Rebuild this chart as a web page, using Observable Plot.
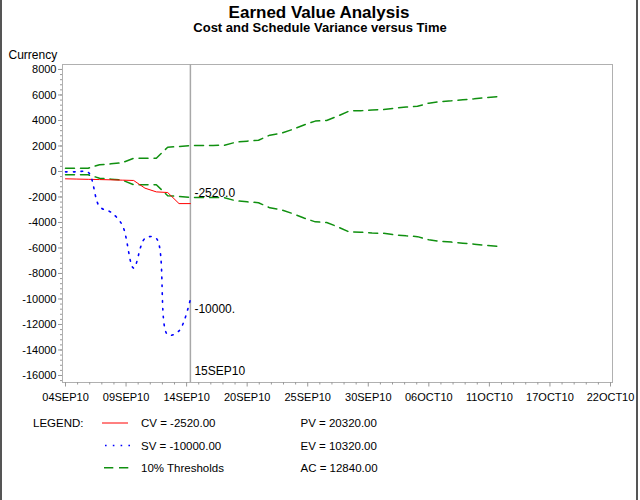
<!DOCTYPE html>
<html><head><meta charset="utf-8">
<script src="https://cdn.jsdelivr.net/npm/d3@7"></script>
<script src="https://cdn.jsdelivr.net/npm/@observablehq/plot@0.6"></script>
<style>
body{margin:0;background:#fff;font-family:"Liberation Sans",Arial,sans-serif;}
#wrap{position:relative;width:640px;height:500px;overflow:hidden;background:#fff;}
.bl{position:absolute;top:0;width:2px;height:500px;background:#555;}
svg{display:block;}
</style></head><body>
<div id="wrap"><div id="head"></div><div id="chart"></div><div id="legend"></div>
<div class="bl" style="left:0"></div><div class="bl" style="left:636px"></div></div>
<script>
// ---------------- data ----------------
const title = "Earned Value Analysis";
const subtitle = "Cost and Schedule Variance versus Time";
const yLabel = "Currency";
const tickLabels = ["04SEP10","09SEP10","14SEP10","20SEP10","25SEP10","30SEP10","06OCT10","11OCT10","17OCT10","22OCT10"];
const yTicks = [8000,6000,4000,2000,0,-2000,-4000,-6000,-8000,-10000,-12000,-14000,-16000];

const cvDates = ["2010-09-04","2010-09-05","2010-09-06","2010-09-07","2010-09-08","2010-09-09",
                 "2010-09-10","2010-09-11","2010-09-12","2010-09-13","2010-09-14","2010-09-15"];
const cvValues = [-575,-595,-615,-635,-655,-680,-705,-1310,-1600,-1650,-2520,-2520];
const svValues = [-30,-30,-60,-2750,-3200,-4200,-7580,-5250,-5250,-12800,-12500,-10000];

const thrDates = ["2010-09-04","2010-09-05","2010-09-06","2010-09-07","2010-09-08","2010-09-09","2010-09-10",
  "2010-09-11","2010-09-12","2010-09-13","2010-09-14","2010-09-15","2010-09-16","2010-09-17","2010-09-18",
  "2010-09-19","2010-09-20","2010-09-21","2010-09-22","2010-09-23","2010-09-24","2010-09-25","2010-09-26",
  "2010-09-27","2010-09-28","2010-09-29","2010-09-30","2010-10-01","2010-10-02","2010-10-03","2010-10-04",
  "2010-10-05","2010-10-06","2010-10-07","2010-10-08","2010-10-09","2010-10-10","2010-10-11","2010-10-12"];
const thrUpper = [260,260,260,525,600,680,1040,1040,1040,1900,1960,2032,2032,2040,2060,2300,2380,2450,2850,3000,
  3300,3650,3950,4000,4350,4750,4760,4830,4850,4970,5050,5110,5360,5480,5540,5620,5700,5800,5860];
const thrLower = [-260,-260,-260,-525,-600,-680,-1040,-1040,-1040,-1900,-1960,-2032,-2032,-2040,-2060,-2300,-2380,-2450,-2850,-3000,
  -3300,-3650,-3950,-4000,-4350,-4750,-4760,-4830,-4850,-4970,-5050,-5110,-5360,-5480,-5540,-5620,-5700,-5800,-5860];

const refDateStr = "2010-09-15";
const refLabel = "15SEP10";
const cvEndLabel = "-2520.0";
const svEndLabel = "-10000.";
const legendTitle = "LEGEND:";
const legendLeft = ["CV = -2520.00","SV = -10000.00","10% Thresholds"];
const legendRight = ["PV = 20320.00","EV = 10320.00","AC = 12840.00"];

// ---------------- helpers ----------------
const FONT = "'Liberation Sans', Arial, sans-serif";
const parse = s => new Date(s + "T00:00:00Z");
const DAY = 864e5;
const xStartTick = +parse("2010-09-04"), xEndTick = +parse("2010-10-22");
const majorTicks = tickLabels.map((_, i) => new Date(xStartTick + i * (xEndTick - xStartTick) / (tickLabels.length - 1)));
const minorTicks = [];
for (let i = 0; i < majorTicks.length - 1; i++)
  for (let k = 1; k < 5; k++) minorTicks.push(new Date(+majorTicks[i] + k * (majorTicks[i+1] - majorTicks[i]) / 5));
const labelMap = new Map(majorTicks.map((d, i) => [+d, tickLabels[i]]));
const yMinor = d3.range(-16400, 8390, 400);

const cv = cvDates.map((d, i) => ({date: parse(d), value: cvValues[i]}));
const sv = cvDates.map((d, i) => ({date: parse(d), value: svValues[i]}));
const up = thrDates.map((d, i) => ({date: parse(d), value: thrUpper[i]}));
const lo = thrDates.map((d, i) => ({date: parse(d), value: thrLower[i]}));
const refDate = parse(refDateStr);

// ---------------- header ----------------
const head = d3.select("#head").append("svg").attr("width", 640).attr("height", 44);
head.append("text").attr("x", 319).attr("y", 17.5).attr("text-anchor", "middle")
  .attr("font-family", FONT).attr("font-weight", "bold").attr("font-size", 17).text(title);
head.append("text").attr("x", 320).attr("y", 32).attr("text-anchor", "middle")
  .attr("font-family", FONT).attr("font-weight", "bold").attr("font-size", 13).text(subtitle);

// ---------------- plot ----------------
const chart = Plot.plot({
  width: 640, height: 368,
  marginTop: 20, marginLeft: 62, marginRight: 28, marginBottom: 30,
  style: {fontFamily: FONT, fontSize: "11px", color: "#000", background: "white"},
  x: {type: "utc", domain: [new Date(xStartTick - 0.264 * DAY), new Date(xEndTick + 0.176 * DAY)], label: null},
  y: {domain: [-16550, 8390], label: null},
  marks: [
    Plot.frame({stroke: "#b0b0b0"}),
    Plot.axisY({ticks: yMinor, tickSize: 2, tickFormat: () => "", stroke: "#999"}),
    Plot.axisY({ticks: yTicks, tickSize: 4, tickPadding: 2, tickFormat: d => String(d), stroke: "#999", fill: "#000"}),
    Plot.axisX({ticks: minorTicks, tickSize: 2.5, tickFormat: () => "", stroke: "#999"}),
    Plot.axisX({ticks: majorTicks, tickSize: 4.5, tickPadding: 6, tickFormat: d => labelMap.get(+d), stroke: "#999", fill: "#000"}),
    Plot.ruleX([refDate], {stroke: "#a8a8a8", strokeWidth: 1.5}),
    Plot.line(up, {x: "date", y: "value", stroke: "#109010", strokeWidth: 1.5, strokeDasharray: "9,6"}),
    Plot.line(lo, {x: "date", y: "value", stroke: "#109010", strokeWidth: 1.5, strokeDasharray: "9,6"}),
    Plot.line(cv, {x: "date", y: "value", stroke: "#ff0000", strokeWidth: 1}),
    Plot.line(sv, {x: "date", y: "value", stroke: "#0000ff", strokeWidth: 1.6, strokeDasharray: "1.6,6.2", curve: "catmull-rom"}),
    Plot.text([cv[cv.length - 1]], {x: "date", y: "value", text: () => cvEndLabel, dx: 4, dy: -10.5, textAnchor: "start", fontSize: 12}),
    Plot.text([sv[sv.length - 1]], {x: "date", y: "value", text: () => svEndLabel, dx: 4, dy: 10.5, textAnchor: "start", fontSize: 12}),
    Plot.text([refDate], {x: d => d, frameAnchor: "bottom", lineAnchor: "middle", text: () => refLabel, dx: 4, dy: -11.3, textAnchor: "start", fontSize: 12}),
    Plot.text([yLabel], {frameAnchor: "top-left", lineAnchor: "middle", text: d => d, dx: -54, dy: -9.5, textAnchor: "start", fontSize: 12})
  ]
});
document.getElementById("chart").appendChild(chart);

// ---------------- legend ----------------
const lg = d3.select("#legend").append("svg").attr("width", 640).attr("height", 88)
  .attr("font-family", FONT).attr("font-size", 11.5);
const rows = [11, 33.5, 55.7];
lg.append("text").attr("x", 33).attr("y", rows[0]).attr("dy", "0.35em").text(legendTitle);
lg.append("line").attr("x1", 102).attr("x2", 128).attr("y1", rows[0]).attr("y2", rows[0]).attr("stroke", "#ff0000");
lg.append("line").attr("x1", 105).attr("x2", 130).attr("y1", rows[1]).attr("y2", rows[1]).attr("stroke", "#0000ff")
  .attr("stroke-width", 1.6).attr("stroke-dasharray", "1.6,6.2");
lg.append("line").attr("x1", 104).attr("x2", 128.5).attr("y1", rows[2]).attr("y2", rows[2]).attr("stroke", "#109010")
  .attr("stroke-width", 1.5).attr("stroke-dasharray", "9.3,5.7");
legendLeft.forEach((t, i) => lg.append("text").attr("x", 141).attr("y", rows[i]).attr("dy", "0.35em").text(t));
legendRight.forEach((t, i) => lg.append("text").attr("x", 300.5).attr("y", rows[i]).attr("dy", "0.35em").text(t));
</script></body></html>
